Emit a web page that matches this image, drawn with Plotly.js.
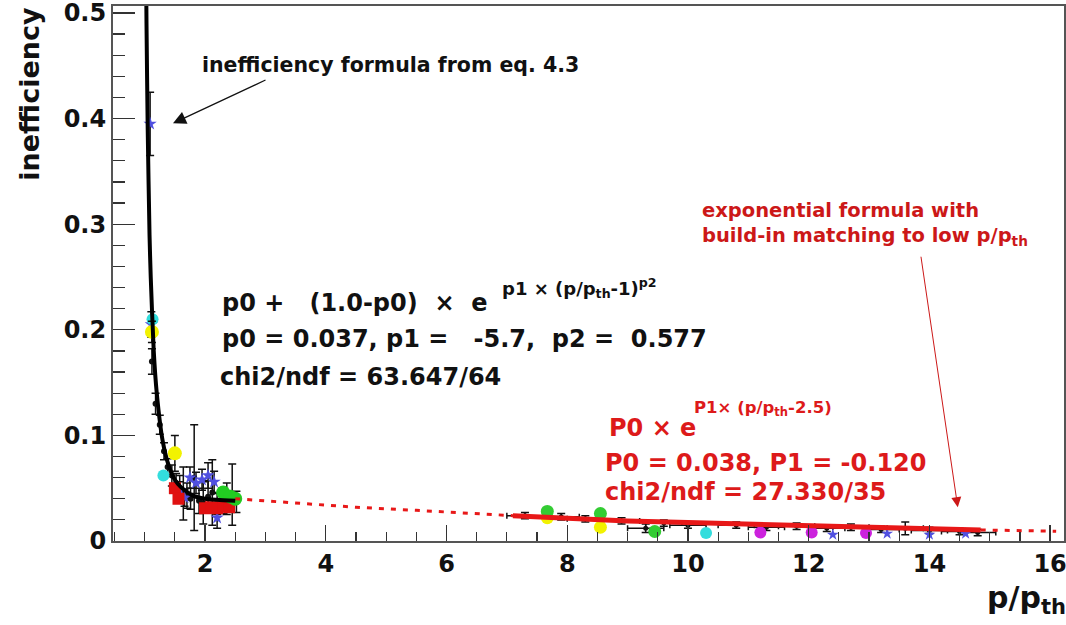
<!DOCTYPE html>
<html>
<head>
<meta charset="utf-8">
<script src="https://cdn.plot.ly/plotly-3.0.1.min.js"></script>
<style>html,body{margin:0;padding:0;background:#fff;}</style>
</head>
<body>
<div id="chart" style="width:1066px;height:625px;"></div>
<script>
// ---- fit curves ----
const fitBlackX = [1.02,1.03,1.05,1.08,1.1,1.15,1.2,1.3,1.4,1.5,1.6,1.8,2.0,2.2,2.5];
const fitBlackY = [0.56,0.49,0.39,0.29,0.25,0.18,0.14,0.094,0.071,0.058,0.051,0.043,0.040,0.039,0.038];

const redDotLX = [2.5,3.5,4.5,5.5,6.5,7.1];
const redDotLY = [0.040,0.036,0.032,0.029,0.026,0.024];
const redSolidX = [7.1,8,9,10,11,12,13,14,14.85];
const redSolidY = [0.024,0.0215,0.019,0.0175,0.016,0.0145,0.013,0.0115,0.0105];
const redDotRX = [14.85,15.5,16.1];
const redDotRY = [0.0105,0.0098,0.0092];

// ---- low p/pth data ----
const blackLowX = [1.12,1.18,1.25,1.32,1.38,1.45,1.52,1.58,1.64,1.7,1.76,1.82,1.9,1.97,2.05,2.12,2.2,2.28,2.36,2.45,2.52];
const blackLowY = [0.17,0.13,0.11,0.085,0.07,0.062,0.055,0.05,0.045,0.043,0.04,0.06,0.038,0.036,0.042,0.046,0.035,0.038,0.04,0.044,0.037];
const blackLowE = [0.012,0.01,0.009,0.008,0.008,0.01,0.009,0.012,0.025,0.012,0.01,0.05,0.012,0.02,0.015,0.031,0.01,0.012,0.015,0.029,0.01];

const blueLowX = [1.09,1.11,1.58,1.66,1.75,1.85,1.95,2.05,2.15,2.2];
const blueLowY = [0.395,0.205,0.048,0.041,0.06,0.055,0.058,0.062,0.056,0.022];
const blueLowE = [0.03,0.012,0.008,0.008,0.01,0.01,0.01,0.012,0.01,0.01];

const cyanLowX = [1.13,1.31];
const cyanLowY = [0.21,0.062];
const yellowLowX = [1.12,1.5];
const yellowLowY = [0.198,0.083];
const yellowLowE = [0.01,0.017];
const redLowX = [1.5,1.56,2.0,2.1,2.2,2.3,2.4];
const redLowY = [0.05,0.04,0.031,0.032,0.031,0.033,0.032];
const greenLowX = [2.3,2.42,2.5];
const greenLowY = [0.046,0.042,0.04];

// ---- high p/pth data ----
const blackHighX = [7.3,7.9,8.3,8.9,9.3,9.6,10.0,10.8,11.3,11.8,12.3,12.7,13.2,13.6,14.0,14.5,14.8];
const blackHighY = [0.024,0.023,0.021,0.019,0.012,0.017,0.015,0.015,0.013,0.014,0.012,0.013,0.011,0.012,0.010,0.009,0.008];
const blackHighEX = [0.3,0.3,0.3,0.3,0.3,0.3,0.3,0.3,0.3,0.3,0.3,0.3,0.3,0.3,0.3,0.3,0.3];
const blackHighEY = [0.003,0.003,0.003,0.003,0.004,0.003,0.003,0.003,0.003,0.003,0.003,0.003,0.003,0.006,0.003,0.003,0.003];
const greenHighX = [7.67,8.55,9.45];
const greenHighY = [0.028,0.026,0.009];
const yellowHighX = [7.67,8.55];
const yellowHighY = [0.022,0.013];
const cyanHighX = [10.3];
const cyanHighY = [0.0075];
const magentaHighX = [11.2,12.05,12.95];
const magentaHighY = [0.008,0.008,0.0075];
const openHighX = [9.8,10.5,11.5,12.4,12.9,13.7,14.3];
const openHighY = [0.020,0.023,0.018,0.015,0.011,0.018,0.012];
const blueHighX = [12.4,13.3,14.0,14.6];
const blueHighY = [0.006,0.007,0.006,0.007];

const FONT = "DejaVu Sans, Liberation Sans, Arial, sans-serif";
const RED = "#dd1a1a";

function pts(x, y, color, symbol, size, ey, ex, extra) {
  const t = {x: x, y: y, type: 'scatter', mode: 'markers', showlegend: false, hoverinfo: 'skip',
    marker: Object.assign({color: color, symbol: symbol, size: size, line: {width: 0}}, extra || {})};
  if (ey) t.error_y = {type: 'data', array: ey, color: '#111', thickness: 1.5, width: 4};
  if (ex) t.error_x = {type: 'data', array: ex, color: '#111', thickness: 1.5, width: 3};
  return t;
}

const traces = [
  pts(blackLowX, blackLowY, '#111', 'circle', 6, blackLowE),
  pts(blueLowX, blueLowY, '#5050e0', 'star', 10, blueLowE),
  pts(cyanLowX, cyanLowY, '#33dddd', 'circle', 12),
  pts(yellowLowX, yellowLowY, '#f2f200', 'circle', 14, yellowLowE),
  pts(redLowX, redLowY, '#e01010', 'square', 12),
  pts(greenLowX, greenLowY, '#22cc22', 'circle', 14),
  pts(blackHighX, blackHighY, '#111', 'circle', 5, blackHighEY, blackHighEX),
  pts(openHighX, openHighY, 'rgba(0,0,0,0)', 'circle-open', 11, null, null, {line: {color: '#333', width: 1}}),
  pts(yellowHighX, yellowHighY, '#f2f200', 'circle', 13),
  pts(greenHighX, greenHighY, '#33cc33', 'circle', 13),
  pts(cyanHighX, cyanHighY, '#33dddd', 'circle', 12),
  pts(magentaHighX, magentaHighY, '#cc22dd', 'circle', 12),
  pts(blueHighX, blueHighY, '#5050e0', 'star', 9),
  {x: redDotLX, y: redDotLY, type: 'scatter', mode: 'lines', showlegend: false, hoverinfo: 'skip',
   line: {color: '#e81818', width: 3, dash: '5px,7px'}},
  {x: redSolidX, y: redSolidY, type: 'scatter', mode: 'lines', showlegend: false, hoverinfo: 'skip',
   line: {color: '#e81818', width: 5}},
  {x: redDotRX, y: redDotRY, type: 'scatter', mode: 'lines', showlegend: false, hoverinfo: 'skip',
   line: {color: '#e81818', width: 3, dash: '5px,7px'}},
  {x: fitBlackX, y: fitBlackY, type: 'scatter', mode: 'lines', showlegend: false, hoverinfo: 'skip',
   line: {color: '#000', width: 4, shape: 'spline', smoothing: 0.6}}
];

function txt(x, y, text, size, color, extra) {
  return Object.assign({x: x, y: y, xref: 'x', yref: 'y', text: text, showarrow: false,
    xanchor: 'left', yanchor: 'middle', align: 'left',
    font: {family: FONT, size: size, color: color, weight: 'bold'}}, extra || {});
}

const annotations = [
  txt(1.916, 0.451, 'inefficiency formula from eq. 4.3', 20.5, '#111'),
  {x: 1.469, y: 0.3955, xref: 'x', yref: 'y', text: '', showarrow: true, ax: 94, ay: -44,
   arrowcolor: '#111', arrowwidth: 1.3, arrowhead: 2, arrowsize: 2, standoff: 0},
  txt(2.248, 0.225, 'p0 +\u00a0\u00a0\u00a0(1.0-p0)\u00a0\u00a0\u00d7\u00a0\u00a0e', 24, '#111'),
  txt(6.89, 0.240, 'p1 \u00d7 (p/p<sub>th</sub>-1)<sup>p2</sup>', 18, '#111'),
  txt(2.248, 0.191, 'p0 = 0.037, p1 =\u00a0\u00a0 -5.7,\u00a0 p2 =\u00a0 0.577', 24, '#111'),
  txt(2.215, 0.155, 'chi2/ndf = 63.647/64', 24, '#111'),
  txt(10.2, 0.3, 'exponential formula with<br>build-in matching to low p/p<sub>th</sub>', 19.5, '#cc1818',
      {yanchor: 'middle'}),
  {x: 14.47, y: 0.032, xref: 'x', yref: 'y', text: '', showarrow: true, ax: -37, ay: -252,
   arrowcolor: '#cc1818', arrowwidth: 1, arrowhead: 2, arrowsize: 2, standoff: 0},
  txt(8.66, 0.107, 'P0 \u00d7 e', 24, RED),
  txt(10.07, 0.125, 'P1\u00d7 (p/p<sub>th</sub>-2.5)', 16.5, RED),
  txt(8.59, 0.0734, 'P0 = 0.038, P1 = -0.120', 24, RED),
  txt(8.59, 0.046, 'chi2/ndf = 27.330/35', 24, RED),
  {x: -0.0873, y: 0.836, xref: 'paper', yref: 'paper', text: 'inefficiency', showarrow: false,
   textangle: -90, xanchor: 'center', yanchor: 'middle',
   font: {family: FONT, size: 27, color: '#111', weight: 'bold'}},
  {x: 0.917, y: -0.11, xref: 'paper', yref: 'paper', text: 'p/p<sub>th</sub>', showarrow: false,
   xanchor: 'left', yanchor: 'middle',
   font: {family: FONT, size: 30, color: '#111', weight: 'bold'}}
];

const axisCommon = {
  showgrid: false, zeroline: false, showline: true, linecolor: '#555', linewidth: 2, mirror: true,
  ticks: 'inside', tickcolor: '#333', tickwidth: 1.3, ticklabeloverflow: 'allow',
  tickfont: {family: FONT, size: 24, color: '#111', weight: 'bold'}, tickmode: 'linear'
};

const layout = {
  width: 1066, height: 625,
  margin: {l: 113, r: 2, t: 6, b: 84},
  paper_bgcolor: '#fff', plot_bgcolor: '#fff',
  showlegend: false,
  xaxis: Object.assign({}, axisCommon, {range: [0.475, 16.23], tick0: 0, dtick: 2, ticklen: 16,
    minor: {dtick: 0.5, ticklen: 9, tickcolor: '#333', tickwidth: 1.2, ticks: 'inside'}}),
  yaxis: Object.assign({}, axisCommon, {range: [0, 0.5066], tick0: 0, dtick: 0.1, ticklen: 22,
    minor: {dtick: 0.02, ticklen: 12, tickcolor: '#333', tickwidth: 1.2, ticks: 'inside'}}),
  annotations: annotations
};

Plotly.newPlot('chart', traces, layout, {displayModeBar: false, staticPlot: true});
</script>
</body>
</html>
